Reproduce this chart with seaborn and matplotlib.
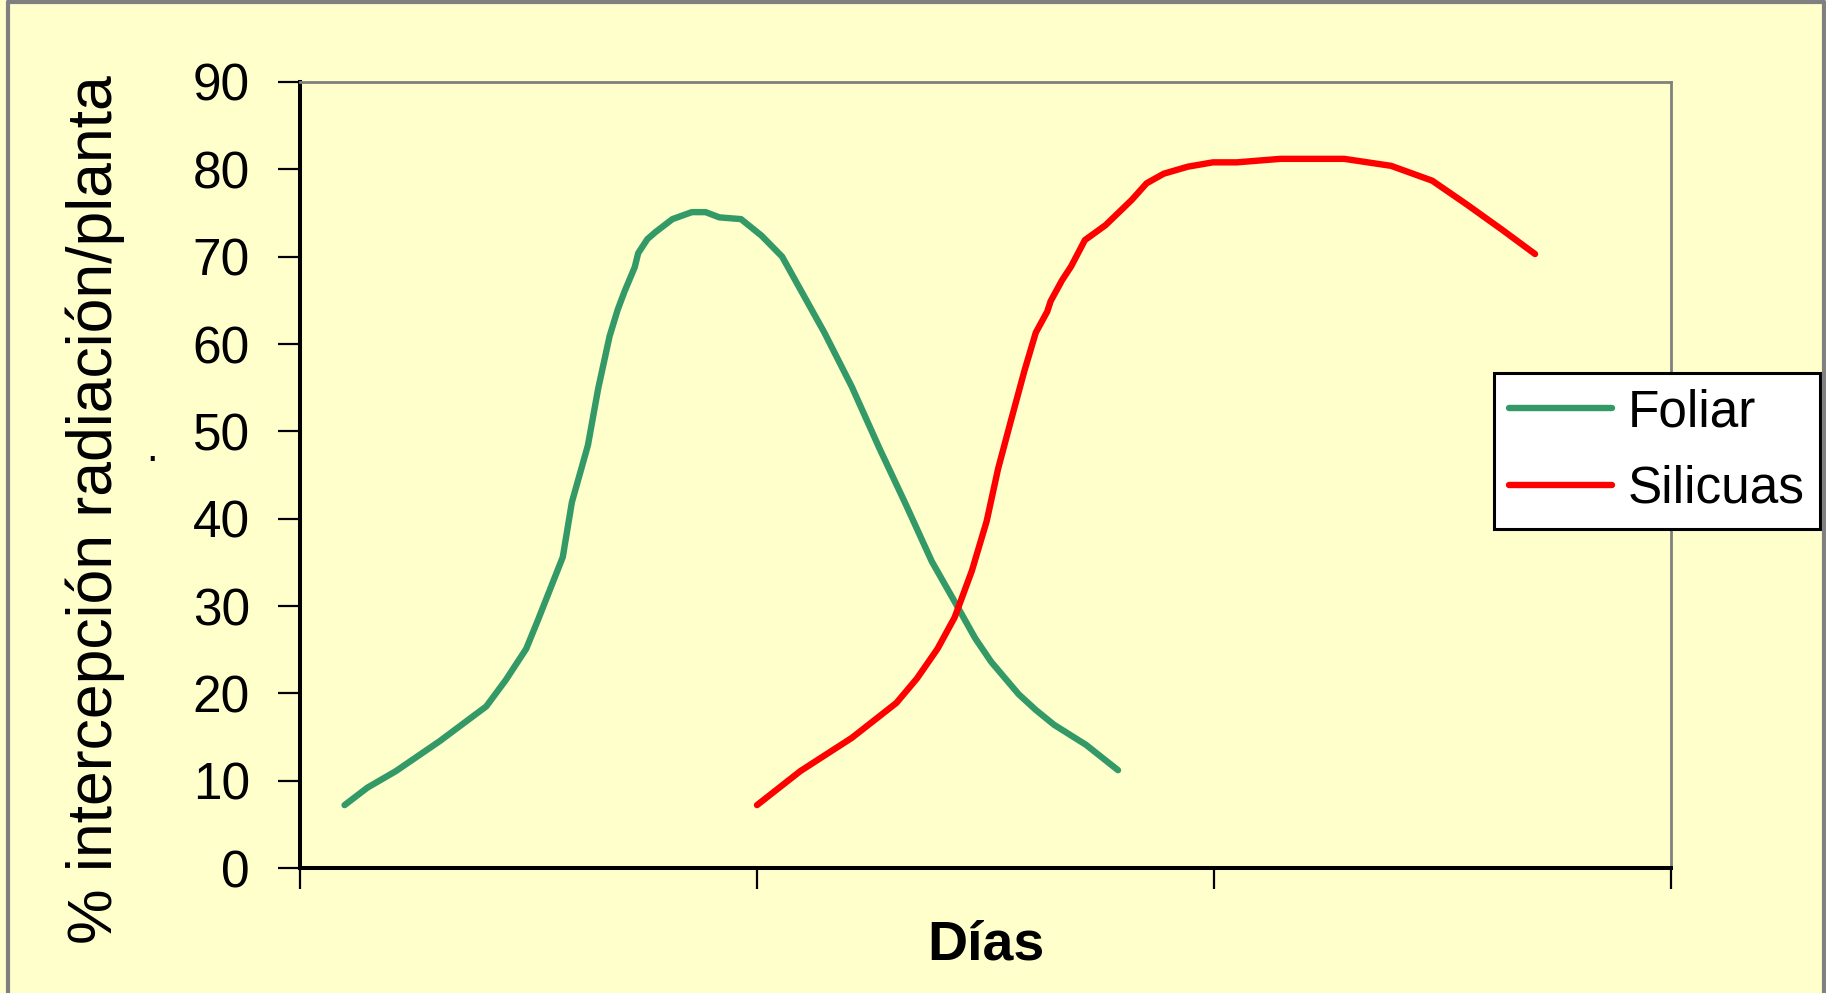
import pandas as pd
import seaborn as sns
import matplotlib.pyplot as plt
from matplotlib.lines import Line2D

# valores (dias aproximados, % interceptado)
foliar_dias = [3.9, 5.9, 8.4, 12.2, 16.3, 18.0, 19.8, 20.8, 23.0, 23.8, 25.2, 26.1, 27.1, 27.8,
               28.4, 29.3, 29.6, 30.4, 31.1, 32.6, 34.3, 34.9, 35.5, 36.7, 38.6, 40.4, 42.2, 45.9,
               48.3, 50.7, 53.0, 55.3, 57.3, 59.1, 60.5, 62.9, 64.4, 66.0, 68.8, 71.6]
foliar_pct = [7.2, 9.2, 11.1, 14.5, 18.5, 21.5, 25.1, 28.3, 35.6, 41.9, 48.4, 54.9, 60.9, 63.9,
              66.0, 68.8, 70.4, 72.0, 72.8, 74.3, 75.1, 75.1, 75.1, 74.5, 74.3, 72.4, 70.0, 61.3,
              55.1, 48.1, 41.7, 35.1, 30.5, 26.3, 23.6, 19.9, 18.1, 16.4, 14.1, 11.2]
silicuas_dias = [40.0, 43.8, 48.3, 52.2, 54.0, 55.8, 57.3, 58.8, 60.1, 61.1, 62.2, 63.4, 64.4,
                 65.4, 65.7, 66.7, 67.5, 68.7, 70.5, 72.8, 74.1, 75.6, 77.7, 79.9, 82.0, 85.8,
                 91.4, 95.5, 99.1, 102.1, 105.2, 108.1]
silicuas_pct = [7.2, 11.1, 14.9, 18.9, 21.7, 25.1, 28.7, 34.0, 39.7, 45.7, 51.1, 56.9, 61.3,
                63.7, 64.9, 67.3, 68.9, 71.9, 73.6, 76.5, 78.4, 79.5, 80.3, 80.8, 80.8, 81.2,
                81.2, 80.4, 78.7, 76.0, 73.1, 70.3]
series = ["Foliar", "Silicuas"]
colores = {"Foliar": "#339966", "Silicuas": "#FF0000"}
y_ticks = list(range(0, 100, 10))
x_ticks = [0, 40, 80, 120]

df = pd.concat([
    pd.DataFrame({"dias": foliar_dias, "pct": foliar_pct, "serie": series[0]}),
    pd.DataFrame({"dias": silicuas_dias, "pct": silicuas_pct, "serie": series[1]}),
])

sns.set_style("white")
plt.rcParams['font.family'] = ['Liberation Sans', 'DejaVu Sans']
plt.rcParams['text.color'] = 'black'
plt.rcParams['ytick.color'] = 'black'
plt.rcParams['xtick.color'] = 'black'

bg = "#FFFFCC"
fig = plt.figure(figsize=(18.26, 9.93), dpi=100, facecolor=bg)
ax = fig.add_axes([300/1826, 125/993, 1371/1826, 786/993])
ax.set_facecolor(bg)

sns.lineplot(data=df, x="dias", y="pct", hue="serie", hue_order=series, palette=colores,
             estimator=None, sort=False, linewidth=4.6, ax=ax)

ax.set_xlim(0, 120)
ax.set_ylim(0, 90)
ax.set_xticks(x_ticks)
ax.set_xticklabels([])
ax.set_yticks(y_ticks)
ax.tick_params(axis="y", labelsize=37, length=16, width=1.6, pad=20, direction="out",
               left=True, labelcolor="black")
ax.tick_params(axis="x", length=15, width=1.6, direction="out", bottom=True)
ax.set_xlabel("")
ax.set_ylabel("")

for s in ["left", "bottom"]:
    ax.spines[s].set_color("black")
    ax.spines[s].set_linewidth(2.9)
for s in ["top", "right"]:
    ax.spines[s].set_color("#808080")
    ax.spines[s].set_linewidth(2.0)

fig.text(95/1826, 1 - 510/993, "% intercepción radiación/planta", rotation=90,
         ha="center", va="center", fontsize=45, color="black")
fig.text(152/1826, 1 - 450/993, ".", ha="center", va="center", fontsize=30, color="black")
fig.text(986/1826, 1 - 945/993, "Días", ha="center", va="center", fontsize=40,
         fontweight="bold", color="black")

leg = ax.legend(loc="upper left", bbox_to_anchor=(1494/1826, 1 - 373/993),
                bbox_transform=fig.transFigure, fontsize=37, frameon=True, fancybox=False,
                framealpha=1, facecolor="white", edgecolor="black", borderpad=0.3,
                labelspacing=0.53, handlelength=2.0, handletextpad=0.3, borderaxespad=0)
leg.get_frame().set_linewidth(2.2)
for h in leg.get_lines():
    h.set_linewidth(4.6)
for t in leg.get_texts():
    t.set_color("black")

# marco gris de la figura
for xs, ys in [([7.5/1826, 7.5/1826], [0, 1 - 1.5/993]),
               ([7.5/1826, 1823.5/1826], [1 - 1.5/993, 1 - 1.5/993]),
               ([1823.5/1826, 1823.5/1826], [0, 1 - 1.5/993])]:
    fig.add_artist(Line2D(xs, ys, color="#808080", linewidth=3, zorder=10))

fig.savefig("out.png", dpi=100, facecolor=bg)
